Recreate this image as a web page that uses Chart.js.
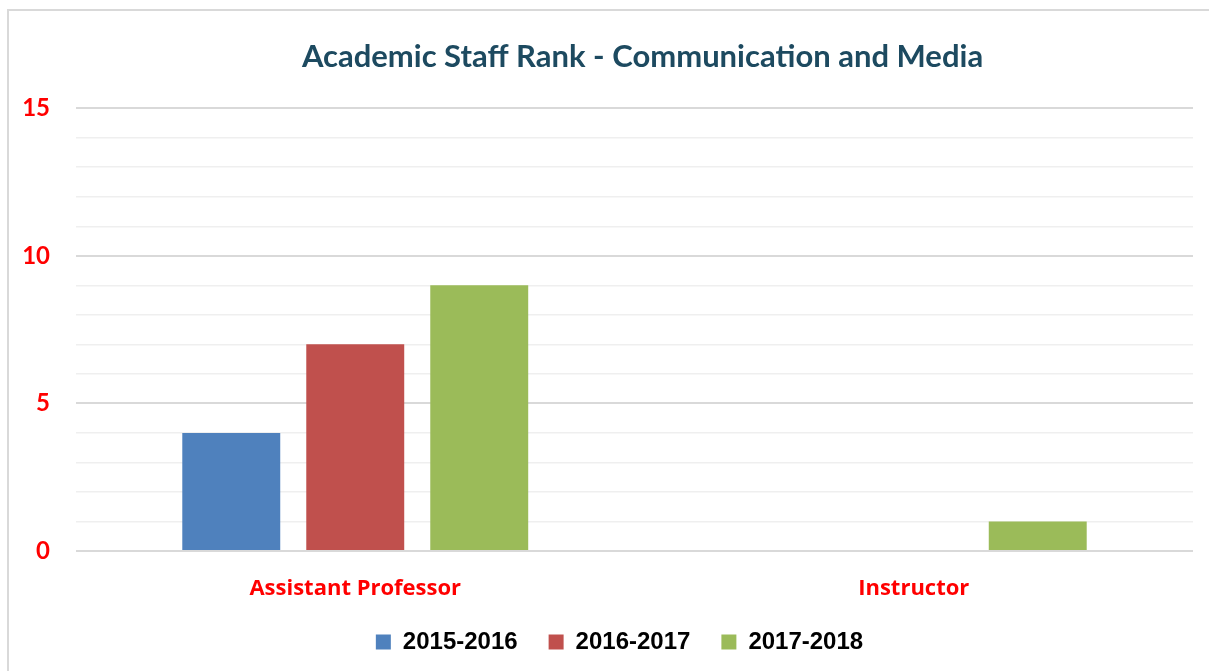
<!DOCTYPE html>
<html>
<head>
<meta charset="utf-8">
<script src="https://cdn.jsdelivr.net/npm/chart.js@4/dist/chart.umd.min.js"></script>
<style>
  html, body { margin: 0; padding: 0; background: #fff; overflow: hidden; width: 1209px; height: 671px; }
  #frame { position: absolute; left: 7px; top: 9px; width: 1300px; height: 700px; border: 2px solid #d9d9d9; box-sizing: border-box; }
  #c { position: absolute; left: 0; top: 0; }
</style>
</head>
<body>
<div id="frame"></div>
<canvas id="c" width="1209" height="671"></canvas>
<script>
const titleText = 'Academic Staff Rank - Communication and Media';
const categories = ['Assistant Professor', 'Instructor'];
const seriesNames = ['2015-2016', '2016-2017', '2017-2018'];
const values2015 = [4, 0];
const values2016 = [7, 0];
const values2017 = [9, 1];
const seriesColors = ['#4F81BD', '#C0504D', '#9BBB59'];
const yTickLabels = [0, 5, 10, 15];

const seriesValues = [values2015, values2016, values2017];

// shift title and legend horizontally to match the reference placement
const shiftBlocks = {
  id: 'shiftBlocks',
  afterLayout(chart) {
    if (chart.titleBlock) { chart.titleBlock.left += 41; chart.titleBlock.right += 41; }
    if (chart.legend) { chart.legend.left += 18; chart.legend.right += 18; }
  }
};

new Chart(document.getElementById('c'), {
  type: 'bar',
  data: {
    labels: categories,
    datasets: seriesNames.map((name, i) => ({
      label: name,
      data: seriesValues[i],
      backgroundColor: seriesColors[i],
      borderWidth: 0,
      categoryPercentage: 0.666,
      barPercentage: 0.79
    }))
  },
  plugins: [shiftBlocks],
  options: {
    responsive: false,
    animation: false,
    layout: { padding: { left: 10, right: 16, top: 0, bottom: 7 } },
    plugins: {
      title: {
        display: true,
        text: titleText,
        color: '#1d4a60',
        font: { family: 'Lato', size: 31, weight: 'bold', lineHeight: 1.2 },
        padding: { top: 38, bottom: 33 }
      },
      legend: {
        position: 'bottom',
        labels: {
          boxWidth: 15,
          boxHeight: 15,
          padding: 31,
          color: '#000',
          font: { family: 'Liberation Sans', size: 24, weight: 'bold' }
        }
      },
      tooltip: { enabled: false }
    },
    scales: {
      x: {
        afterFit: (s) => { s.height = 48; },
        grid: { display: false, drawTicks: false },
        border: { display: false },
        ticks: {
          color: '#ff0000',
          padding: 25,
          font: { family: 'Open Sans', size: 22, weight: 'bold', lineHeight: 1.2 }
        }
      },
      y: {
        min: 0,
        max: 15,
        afterFit: (s) => { s.width = 66; },
        border: { display: false },
        grid: {
          drawTicks: false,
          color: (ctx) => (ctx.tick && yTickLabels.includes(ctx.tick.value)) ? '#d9d9d9' : '#efefef',
          lineWidth: (ctx) => (ctx.tick && yTickLabels.includes(ctx.tick.value)) ? 2 : 1.5
        },
        ticks: {
          stepSize: 1,
          autoSkip: false,
          padding: 26,
          color: '#ff0000',
          font: { family: 'Lato', size: 24, weight: 'bold' },
          callback: (v) => yTickLabels.includes(v) ? String(v) : ''
        }
      }
    }
  }
});
</script>
</body>
</html>
